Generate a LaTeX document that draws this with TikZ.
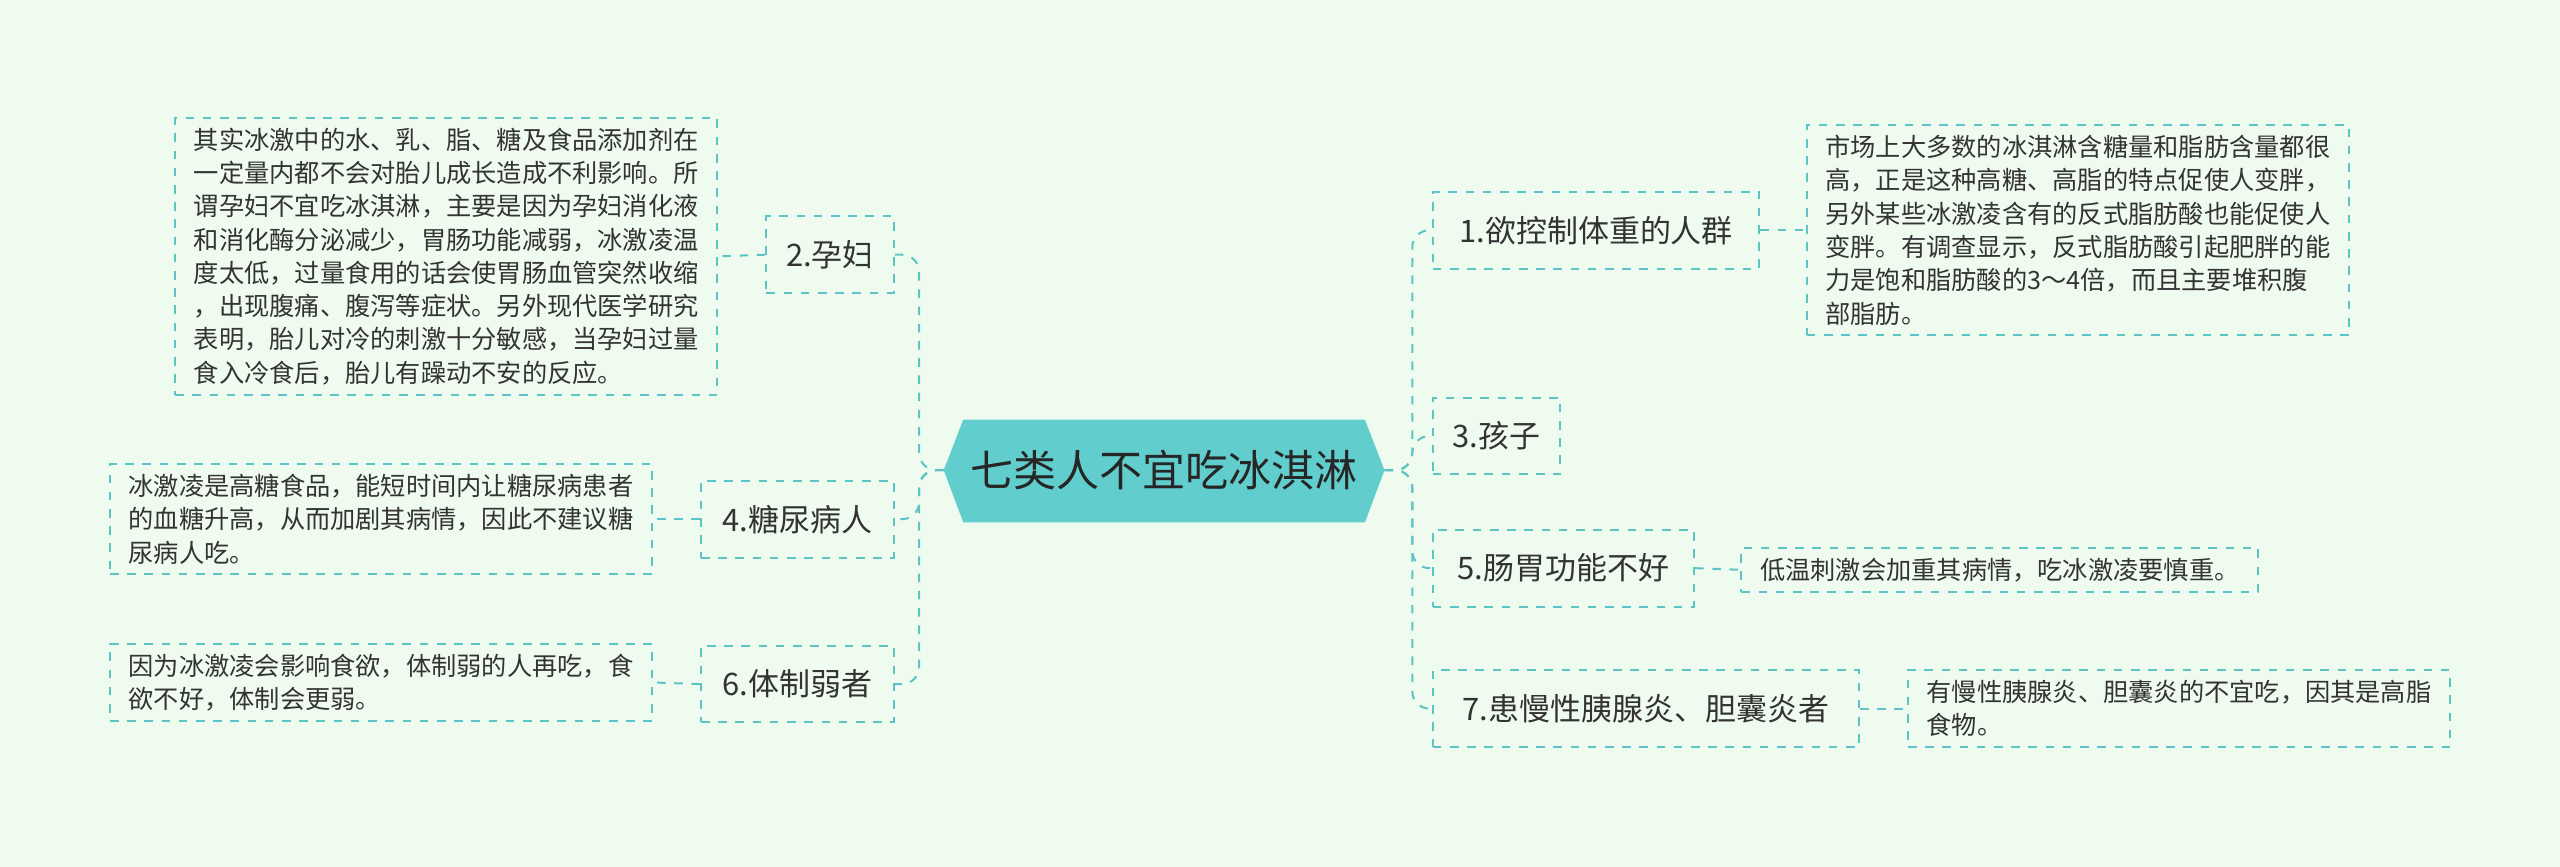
\documentclass[tikz,border=0pt]{standalone}
\usepackage{fontspec}
\setmainfont{Noto Sans CJK SC}
\definecolor{bg}{HTML}{F0FBF0}
\definecolor{ln}{HTML}{5CC4C4}
\definecolor{cf}{HTML}{62CDCD}
\begin{document}
\begin{tikzpicture}[x=0.02cm,y=-0.02cm,
 line/.style={draw=ln,dashed,line width=0.7pt},
 bbox/.style={line,text=black!80,font=\fontsize{10.8pt}{13pt}\selectfont,inner sep=0pt,minimum height=47*0.02cm,anchor=west},
 dbox/.style={line,text=black!80,font=\fontsize{8.8pt}{11.6pt}\selectfont,align=left,inner xsep=6.5pt,inner ysep=3.5pt,anchor=west}]
\fill[bg] (0,0) rectangle (1568,531);
\useasboundingbox (0,0) rectangle (1568,531);
\fill[cf] (578,288)--(590,257)--(836,257)--(848,288)--(836,320)--(590,320)--cycle;
\node[font=\fontsize{15pt}{17pt}\selectfont,text=black!85] (c) at (713,288) {七类人不宜吃冰淇淋};
\coordinate (ce) at (848,288); \coordinate (cw) at (578,288);
\node[bbox,minimum width=200*0.02cm] (b1) at (877,141) {1.欲控制体重的人群};
\node[bbox,minimum width=78*0.02cm] (b3) at (877,267) {3.孩子};
\node[bbox,minimum width=160*0.02cm] (b5) at (877,348) {5.肠胃功能不好};
\node[bbox,minimum width=261*0.02cm] (b7) at (877,434) {7.患慢性胰腺炎、胆囊炎者};
\node[bbox,minimum width=78*0.02cm,anchor=east] (b2) at (548,156) {2.孕妇};
\node[bbox,minimum width=118*0.02cm,anchor=east] (b4) at (548,318) {4.糖尿病人};
\node[bbox,minimum width=118*0.02cm,anchor=east] (b6) at (548,419) {6.体制弱者};
\foreach \b in {b1,b3,b5,b7} \draw[line,rounded corners=6pt] (ce) -- (865,288) |- (\b.west);
\foreach \b in {b2,b4,b6} \draw[line,rounded corners=6pt] (cw) -- (563,288) |- (\b.east);
\node[dbox] (d1) at (1106,141) {市场上大多数的冰淇淋含糖量和脂肪含量都很\\高，正是这种高糖、高脂的特点促使人变胖，\\另外某些冰激凌含有的反式脂肪酸也能促使人\\变胖。有调查显示，反式脂肪酸引起肥胖的能\\力是饱和脂肪酸的3～4倍，而且主要堆积腹\\部脂肪。};
\node[dbox] (d5) at (1066,349) {低温刺激会加重其病情，吃冰激凌要慎重。};
\node[dbox] (d7) at (1168,434) {有慢性胰腺炎、胆囊炎的不宜吃，因其是高脂\\食物。};
\node[dbox,anchor=east] (d2) at (440,157) {其实冰激中的水、乳、脂、糖及食品添加剂在\\一定量内都不会对胎儿成长造成不利影响。所\\谓孕妇不宜吃冰淇淋，主要是因为孕妇消化液\\和消化酶分泌减少，胃肠功能减弱，冰激凌温\\度太低，过量食用的话会使胃肠血管突然收缩\\，出现腹痛、腹泻等症状。另外现代医学研究\\表明，胎儿对冷的刺激十分敏感，当孕妇过量\\食入冷食后，胎儿有躁动不安的反应。};
\node[dbox,anchor=east] (d4) at (400,318) {冰激凌是高糖食品，能短时间内让糖尿病患者\\的血糖升高，从而加剧其病情，因此不建议糖\\尿病人吃。};
\node[dbox,anchor=east] (d6) at (400,418) {因为冰激凌会影响食欲，体制弱的人再吃，食\\欲不好，体制会更弱。};
\draw[line] (b1.east) -- (d1.west);
\draw[line] (b5.east) -- (d5.west);
\draw[line] (b7.east) -- (d7.west);
\draw[line] (b2.west) -- (d2.east);
\draw[line] (b4.west) -- (d4.east);
\draw[line] (b6.west) -- (d6.east);
\end{tikzpicture}
\end{document}
